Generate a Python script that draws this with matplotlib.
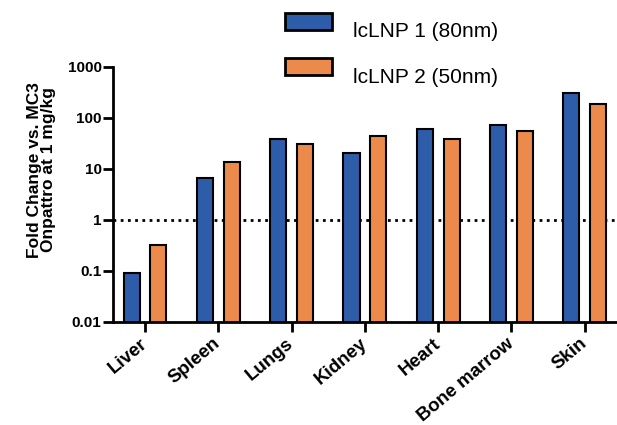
import matplotlib
matplotlib.use('Agg')
import matplotlib.pyplot as plt
from matplotlib.patches import Rectangle
import numpy as np

plt.rcParams['font.family'] = ['Liberation Sans', 'DejaVu Sans']

organs = ["Liver", "Spleen", "Lungs", "Kidney", "Heart", "Bone marrow", "Skin"]
lnp1 = [0.092, 6.6, 39, 21, 61, 72, 310]
lnp2 = [0.32, 13.7, 31, 45, 39, 56, 190]
labels = ["lcLNP 1 (80nm)", "lcLNP 2 (50nm)"]
yticks = [0.01, 0.1, 1, 10, 100, 1000]
ytick_labels = ["0.01", "0.1", "1", "10", "100", "1000"]

blue = "#2d5da9"
orange = "#ec8a4b"

fig = plt.figure(figsize=(6.17, 4.25), dpi=100)
ax = fig.add_axes([0.1827, 0.2424, 0.8173, 0.6])

x = np.arange(len(organs))
w = 0.22
ax.bar(x - 0.183, lnp1, w, color=blue, edgecolor='black', linewidth=1.5)
ax.bar(x + 0.183, lnp2, w, color=orange, edgecolor='black', linewidth=1.5)

ax.set_yscale('log')
ax.set_ylim(0.01, 1000)
ax.set_xlim(-0.44, 6.44)
ax.axhline(1, color='black', linestyle=(0, (1, 1.6)), linewidth=2, zorder=0.5)

ax.set_yticks(yticks)
ax.set_yticklabels(ytick_labels, fontweight='bold', fontsize=11)
ax.minorticks_off()
ax.set_xticks(x)
ax.set_xticklabels(organs, rotation=40, ha='right', va='center',
                   rotation_mode='anchor', fontweight='bold', fontsize=13.5)
ax.tick_params(axis='both', width=2, length=7)
ax.tick_params(axis='y', pad=1)
ax.tick_params(axis='x', pad=7)

for s in ['top', 'right']:
    ax.spines[s].set_visible(False)
for s in ['left', 'bottom']:
    ax.spines[s].set_linewidth(2)

ax.set_ylabel("Fold Change vs. MC3\nOnpattro at 1 mg/kg", fontweight='bold',
              fontsize=12.5, linespacing=0.9)
ax.yaxis.set_label_coords(-0.112, 0.596)

# legend drawn by hand: text sits a bit below each swatch, as in the original
for i, (lab, col) in enumerate(zip(labels, [blue, orange])):
    top = 0.970 - i * 0.107
    fig.patches.append(Rectangle((0.462, top - 0.040), 0.076, 0.040,
                                 transform=fig.transFigure, facecolor=col,
                                 edgecolor='black', linewidth=2))
    fig.text(0.572, top - 0.058, lab, fontsize=15, va='baseline', ha='left')

fig.savefig('out.png', dpi=100)
